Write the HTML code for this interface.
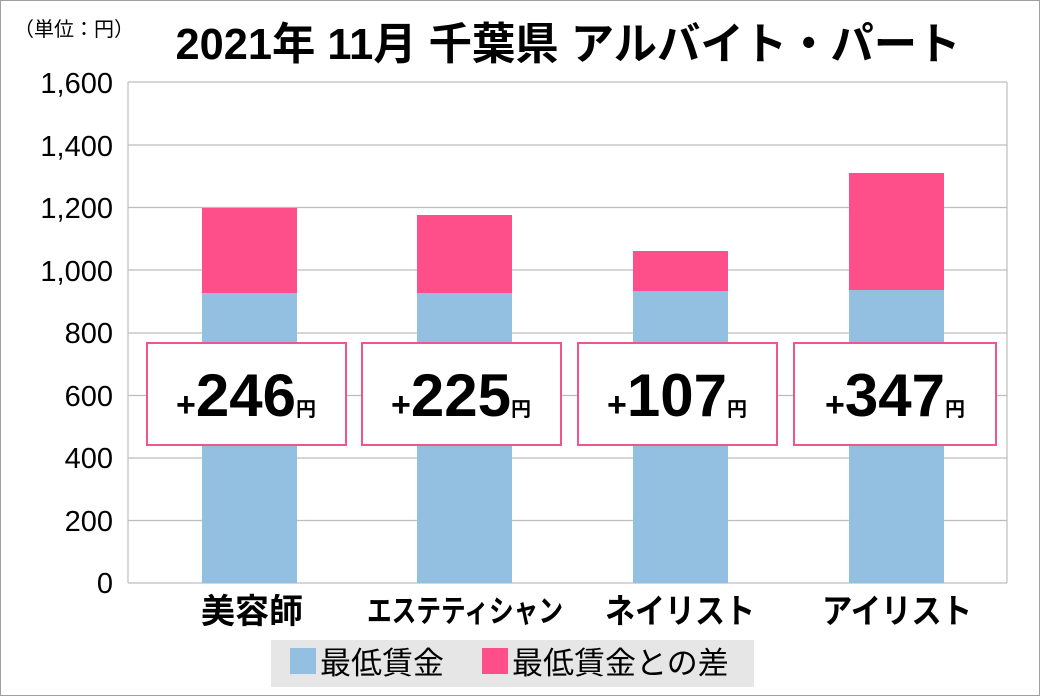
<!DOCTYPE html>
<html><head><meta charset="utf-8"><style>
html,body{margin:0;padding:0;background:#fff;}
svg{display:block}
text{font-family:"Liberation Sans","Noto Sans CJK JP",sans-serif;}
</style></head><body>
<svg width="1040" height="696" viewBox="0 0 1040 696">
<rect x="0.5" y="0.5" width="1039" height="695" fill="#fff" stroke="#a0a0a0"/>
<text x="14" y="36" font-size="20" fill="#000">（単位：円）</text>
<text x="568" y="59" font-size="44" font-weight="bold" text-anchor="middle" fill="#000" textLength="785" lengthAdjust="spacingAndGlyphs">2021年 11月 千葉県 アルバイト・パート</text>
<g stroke="#bdbdbd" stroke-width="1.2">
<line x1="128" y1="82" x2="1007" y2="82"/>
<line x1="128" y1="145" x2="1007" y2="145"/>
<line x1="128" y1="207.5" x2="1007" y2="207.5"/>
<line x1="128" y1="270" x2="1007" y2="270"/>
<line x1="128" y1="333" x2="1007" y2="333"/>
<line x1="128" y1="395.5" x2="1007" y2="395.5"/>
<line x1="128" y1="458" x2="1007" y2="458"/>
<line x1="128" y1="520.5" x2="1007" y2="520.5"/>
<line x1="128" y1="583" x2="1007" y2="583"/>
<line x1="128" y1="82" x2="128" y2="583"/>
<line x1="1007" y1="82" x2="1007" y2="583"/>
</g>
<g font-size="29" text-anchor="end" fill="#000">
<text x="113" y="93">1,600</text>
<text x="113" y="156">1,400</text>
<text x="113" y="218">1,200</text>
<text x="113" y="281">1,000</text>
<text x="113" y="343">800</text>
<text x="113" y="406">600</text>
<text x="113" y="468">400</text>
<text x="113" y="531">200</text>
<text x="113" y="593">0</text>
</g>
<g fill="#93bfe0">
<rect x="202" y="293" width="95" height="290"/>
<rect x="417" y="293" width="95" height="290"/>
<rect x="633" y="291" width="95" height="292"/>
<rect x="849" y="290" width="95" height="293"/>
</g>
<g fill="#ff4f8b">
<rect x="202" y="208" width="95" height="85"/>
<rect x="417" y="215" width="95" height="78"/>
<rect x="633" y="251" width="95" height="40"/>
<rect x="849" y="173" width="95" height="117"/>
</g>
<g fill="#fff" stroke="#f0558d" stroke-width="2">
<rect x="147" y="343" width="199" height="102"/>
<rect x="362" y="343" width="199" height="102"/>
<rect x="578" y="343" width="199" height="102"/>
<rect x="794" y="343" width="202" height="102"/>
</g>
<g font-weight="bold" fill="#000">
<text x="246" y="416" text-anchor="middle"><tspan font-size="34">+</tspan><tspan font-size="60">246</tspan><tspan font-size="20">円</tspan></text>
<text x="461" y="416" text-anchor="middle"><tspan font-size="34">+</tspan><tspan font-size="60">225</tspan><tspan font-size="20">円</tspan></text>
<text x="677" y="416" text-anchor="middle"><tspan font-size="34">+</tspan><tspan font-size="60">107</tspan><tspan font-size="20">円</tspan></text>
<text x="895" y="416" text-anchor="middle"><tspan font-size="34">+</tspan><tspan font-size="60">347</tspan><tspan font-size="20">円</tspan></text>
</g>
<g font-size="34" font-weight="bold" text-anchor="middle" fill="#000">
<text x="252" y="623">美容師</text>
<text x="465" y="622" font-size="31" textLength="196" lengthAdjust="spacingAndGlyphs">エステティシャン</text>
<text x="680" y="623" textLength="150" lengthAdjust="spacingAndGlyphs">ネイリスト</text>
<text x="897" y="623" textLength="150" lengthAdjust="spacingAndGlyphs">アイリスト</text>
</g>
<rect x="271" y="640" width="483" height="47" fill="#e6e6e6"/>
<rect x="290" y="648" width="26" height="26" fill="#93bfe0"/>
<text x="320" y="674" font-size="31" fill="#000">最低賃金</text>
<rect x="482" y="648" width="26" height="26" fill="#ff4f8b"/>
<text x="512" y="674" font-size="31" fill="#000">最低賃金との差</text>
</svg>
</body></html>
